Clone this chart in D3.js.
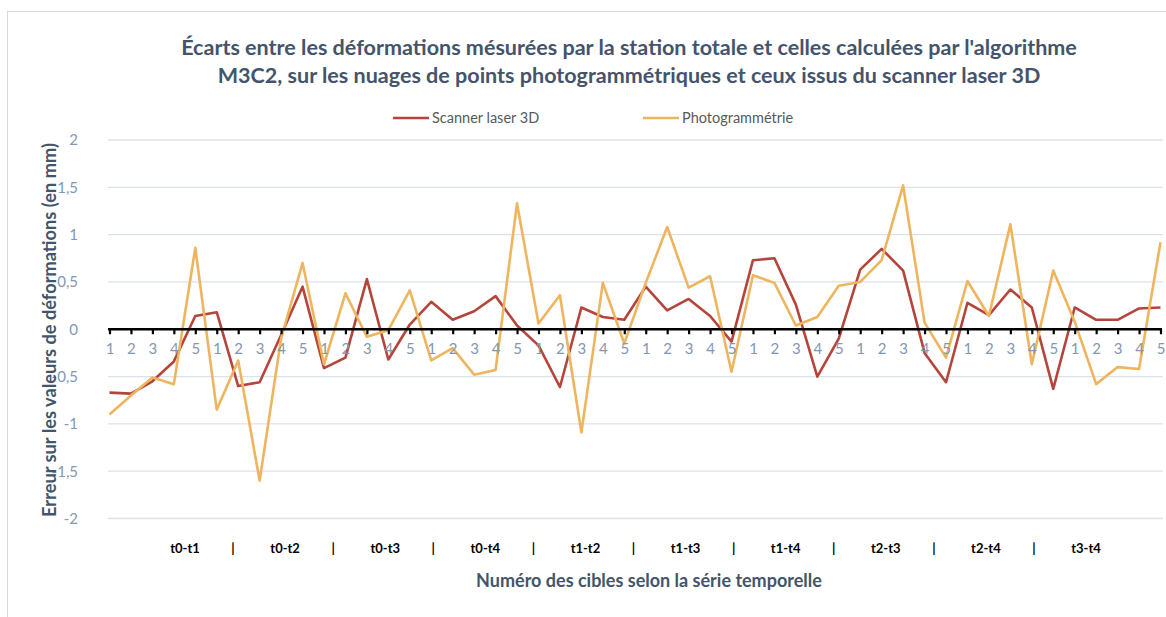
<!DOCTYPE html>
<html>
<head>
<meta charset="utf-8">
<script src="https://cdn.jsdelivr.net/npm/d3@7"></script>
<style>
  body { margin: 0; background: #fff; }
  svg { display: block; font-family: Lato, "Open Sans", sans-serif; }
</style>
</head>
<body>
<svg id="chart" width="1166" height="617"></svg>
<script>
// groups of the time series and the target numbers inside each group
var groups = ["t0-t1", "t0-t2", "t0-t3", "t0-t4", "t1-t2", "t1-t3", "t1-t4", "t2-t3", "t2-t4", "t3-t4"];
var targets = ["1", "2", "3", "4", "5"];

var scanner = [
  -0.67, -0.68, -0.55, -0.34, 0.14,
  0.18, -0.60, -0.56, -0.06, 0.45,
  -0.41, -0.30, 0.53, -0.32, 0.05,
  0.29, 0.10, 0.19, 0.35, 0.04,
  -0.17, -0.61, 0.23, 0.13, 0.10,
  0.45, 0.20, 0.32, 0.14, -0.13,
  0.73, 0.75, 0.26, -0.50, -0.10,
  0.63, 0.85, 0.62, -0.25, -0.56,
  0.28, 0.15, 0.42, 0.23, -0.63,
  0.23, 0.10, 0.10, 0.22, 0.23
];

var photo = [
  -0.90, -0.70, -0.51, -0.58, 0.86,
  -0.85, -0.33, -1.60, -0.10, 0.70,
  -0.37, 0.38, -0.08, -0.01, 0.41,
  -0.33, -0.20, -0.48, -0.43, 1.33,
  0.06, 0.36, -1.09, 0.49, -0.15,
  0.49, 1.08, 0.44, 0.56, -0.45,
  0.57, 0.49, 0.04, 0.13, 0.46,
  0.50, 0.73, 1.52, 0.07, -0.30,
  0.51, 0.14, 1.11, -0.37, 0.62,
  0.08, -0.58, -0.40, -0.42, 0.92
];

var yTicks = [2, 1.5, 1, 0.5, 0, -0.5, -1, -1.5, -2];

var seriesNames = ["Scanner laser 3D", "Photogrammétrie"];
var seriesColors = ["#B5443B", "#EFB45E"];

var svg = d3.select("#chart");

// one key per point : "group|target"
var keys = [];
groups.forEach(function (g) {
  targets.forEach(function (t) { keys.push(g + "|" + t); });
});

var x = d3.scalePoint().domain(keys).range([109.5, 1160.5]);
var y = d3.scaleLinear().domain([-2, 2]).range([518.5, 140]);

var fr = d3.formatLocale({decimal: ",", thousands: " ", grouping: [3], currency: ["", ""], minus: "-"});
var fmt = function (d) { return fr.format("")(d).replace(".", ","); };

// outer frame
svg.append("rect")
  .attr("x", 7.5).attr("y", 11.5)
  .attr("width", 1170).attr("height", 620)
  .attr("fill", "none")
  .attr("stroke", "#D9D9D9");

// helper: shrink/grow font so the text spans the wanted width
function fitText(sel, width) {
  var fs = parseFloat(sel.attr("font-size"));
  var w = sel.node().getComputedTextLength();
  sel.attr("font-size", (fs * width / w).toFixed(2));
}

// title
var title = svg.append("g").attr("fill", "#44546A").attr("font-weight", "bold");
var t1 = title.append("text").attr("x", 629).attr("y", 55).attr("text-anchor", "middle").attr("font-size", 18)
  .text("Écarts entre les déformations mésurées par la station totale et celles calculées par l'algorithme");
fitText(t1, 896);
var t2 = title.append("text").attr("x", 629).attr("y", 83).attr("text-anchor", "middle").attr("font-size", t1.attr("font-size"))
  .text("M3C2, sur les nuages de points photogrammétriques et ceux issus du scanner laser 3D");

// legend
var legendX = [393, 643];
var legend = svg.append("g").selectAll("g")
  .data(seriesNames)
  .enter()
  .append("g")
  .attr("transform", function (d, i) { return "translate(" + legendX[i] + ",118)"; });
legend.append("line")
  .attr("x1", 0).attr("x2", 36).attr("y1", 0).attr("y2", 0)
  .attr("stroke", function (d, i) { return seriesColors[i]; })
  .attr("stroke-width", 2.5);
legend.append("text")
  .attr("x", 39).attr("dy", "0.35em")
  .attr("font-size", 14.5)
  .attr("fill", "#595959")
  .text(function (d) { return d; });

// gridlines
svg.append("g").selectAll("line")
  .data(yTicks.filter(function (d) { return d !== 0; }))
  .enter()
  .append("line")
  .attr("x1", 108).attr("x2", 1163)
  .attr("y1", function (d) { return y(d); })
  .attr("y2", function (d) { return y(d); })
  .attr("stroke", "#DCE2EA")
  .attr("stroke-width", 1.3);

// y axis labels
var yAxis = svg.append("g")
  .attr("transform", "translate(108,0)")
  .call(d3.axisLeft(y).tickValues(yTicks).tickFormat(fmt).tickSize(0).tickPadding(30));
yAxis.select(".domain").remove();
yAxis.selectAll("text")
  .attr("font-family", "Lato, 'Open Sans', sans-serif")
  .attr("font-size", 15)
  .attr("fill", "#8497B0");

// lines
var line = d3.line()
  .x(function (d, i) { return x(keys[i]); })
  .y(function (d) { return y(d); });

[scanner, photo].forEach(function (s, i) {
  svg.append("path")
    .datum(s)
    .attr("d", line)
    .attr("fill", "none")
    .attr("stroke", seriesColors[i])
    .attr("stroke-width", 2.6)
    .attr("stroke-linejoin", "round");
});

// x axis at zero
var xAxis = svg.append("g")
  .attr("transform", "translate(0," + y(0) + ")")
  .call(d3.axisBottom(x).tickFormat(function (d) { return d.split("|")[1]; }).tickSize(5).tickSizeOuter(0).tickPadding(9));
xAxis.select(".domain")
  .attr("d", "M108," + 0 + "H1162")
  .attr("stroke", "#000")
  .attr("stroke-width", 2.6);
xAxis.selectAll(".tick line").attr("stroke", "#000").attr("stroke-width", 2.2);
xAxis.selectAll("text")
  .attr("font-family", "Lato, 'Open Sans', sans-serif")
  .attr("font-size", 15)
  .attr("fill", "#8497B0");

// group labels under the plot
var gx = d3.scalePoint().domain(groups).range([185, 1086]);
var gl = svg.append("g").attr("font-weight", "bold").attr("font-size", 13).attr("fill", "#000");
gl.selectAll(".grp")
  .data(groups)
  .enter()
  .append("text")
  .attr("class", "grp")
  .attr("x", function (d) { return gx(d); })
  .attr("y", 553)
  .attr("text-anchor", "middle")
  .text(function (d) { return d; });
gl.selectAll(".sep")
  .data(groups.slice(1))
  .enter()
  .append("text")
  .attr("class", "sep")
  .attr("x", function (d, i) { return (gx(groups[i]) + gx(d)) / 2 - 2; })
  .attr("y", 553)
  .attr("text-anchor", "middle")
  .text("|");

// axis titles
var xt = svg.append("text")
  .attr("x", 649).attr("y", 587)
  .attr("text-anchor", "middle")
  .attr("font-weight", "bold").attr("font-size", 16)
  .attr("fill", "#44546A")
  .text("Numéro des cibles selon la série temporelle");
fitText(xt, 346);

var yt = svg.append("text")
  .attr("transform", "translate(56,330) rotate(-90)")
  .attr("text-anchor", "middle")
  .attr("font-weight", "bold").attr("font-size", 16)
  .attr("fill", "#44546A")
  .text("Erreur sur les valeurs de déformations (en mm)");
fitText(yt, 374);
</script>
</body>
</html>
